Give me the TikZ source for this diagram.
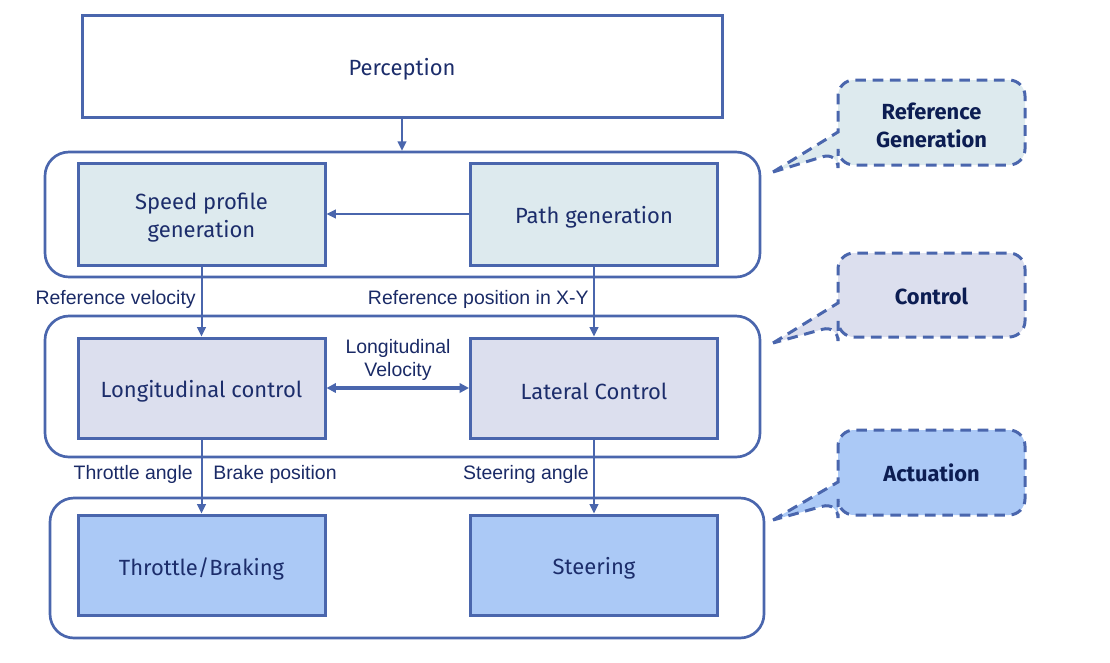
\documentclass[tikz,border=0pt]{standalone}
\usepackage{fontspec}
\setmainfont{Fira Sans}
\newfontfamily\labelfont{Liberation Sans}
\usetikzlibrary{arrows.meta,positioning}
\definecolor{lineblue}{HTML}{4A66AD}
\definecolor{boxtext}{HTML}{1C2D6B}
\definecolor{labtext}{HTML}{1A2A66}
\definecolor{calltext}{HTML}{0C1D52}
\definecolor{fillref}{HTML}{DDEAEE}
\definecolor{fillctl}{HTML}{DCDFEE}
\definecolor{fillact}{HTML}{ABC9F6}
\newcommand{\lowertxt}[1]{\raisebox{-2.6pt}[\height][\depth]{#1}}
\tikzset{
  blk/.style={draw=lineblue, line width=2.25pt, minimum width=185.25pt, minimum height=75pt,
    inner sep=0pt, align=center, text=boxtext, font=\fontsize{16.5}{21}\selectfont},
  grp/.style={draw=lineblue, line width=2pt, rounded corners=18pt, inner sep=0pt},
  conn/.style={draw=lineblue, line width=1.5pt, -{Triangle[length=7pt,width=6.5pt]}},
  dconn/.style={draw=lineblue, line width=2.6pt, {Triangle[length=7pt,width=7pt]}-{Triangle[length=7pt,width=7pt]}},
  lab/.style={text=labtext, font=\labelfont\fontsize{14.6}{17.5}\selectfont, inner sep=0pt, align=center},
  callout/.style={draw=lineblue, line width=2.25pt, dash pattern=on 8pt off 5pt},
  calltxt/.style={text=calltext, font=\bfseries\fontsize{16.4}{21}\selectfont, align=center, inner sep=0pt},
}
\begin{document}
\begin{tikzpicture}[x=0.75pt,y=-0.75pt]
\useasboundingbox (0,0) rectangle (1110,662);
% groups
\node[grp, minimum width=536.25pt, minimum height=93.75pt] (g1) at (402.5,214.5) {};
\node[grp, minimum width=536.25pt, minimum height=105.75pt] (g2) at (402.5,386.5) {};
\node[grp, minimum width=535.5pt, minimum height=105pt] (g3) at (407,568) {};
% boxes
\node[blk, fill=white, minimum width=480pt, minimum height=76.5pt] (perc) at (402,66) {\lowertxt{Perception}};
\node[blk, fill=fillref, minimum height=76.5pt] (speed) at (201.5,214) {\lowertxt{\begin{tabular}{@{}c@{}}Speed profile\\generation\end{tabular}}};
\node[blk, fill=fillref, minimum height=76.5pt] (path) at (594,214) {\lowertxt{Path generation}};
\node[blk, fill=fillctl] (long) at (201.5,388) {\lowertxt{Longitudinal control}};
\node[blk, fill=fillctl] (lat) at (594,388) {\lowertxt{Lateral Control}};
\node[blk, fill=fillact] (thr) at (201.5,565) {\lowertxt{Throttle/Braking}};
\node[blk, fill=fillact] (steer) at (594,565) {\lowertxt{Steering}};
% connectors
\draw[conn] (perc.south) -- (perc.south |- g1.north);
\draw[conn] (path.west) -- (speed.east);
\draw[conn] (speed.south) -- (long.north);
\draw[conn] (path.south) -- (lat.north);
\draw[dconn] (long.east) -- (lat.west);
\draw[conn] (long.south) -- (thr.north);
\draw[conn] (lat.south) -- (steer.north);
% labels
\node[lab, anchor=east] (lrv) at (196,299) {Reference velocity};
\node[lab, anchor=east] (lrp) at (589,299) {Reference position in X-Y};
\node[lab] (llv) at (398,360) {Longitudinal\\Velocity};
\node[lab, anchor=east] (lta) at (193,474) {Throttle angle};
\node[lab, anchor=west] (lbp) at (213,474) {Brake position};
\node[lab, anchor=east] (lsa) at (589,474) {Steering angle};
% callouts
\path[callout, fill=fillref] (773,172) -- (838,132) [rounded corners=12pt] -- (838,80) -- (1025,80) -- (1025,165) -- (838,165) -- (838,152) [sharp corners] -- cycle;
\node[calltxt] (crg) at (931.5,125) {Reference\\Generation};
\path[callout, fill=fillctl] (773,343) -- (838,303) [rounded corners=12pt] -- (838,253) -- (1025,253) -- (1025,337) -- (838,337) -- (838,325) [sharp corners] -- cycle;
\node[calltxt] (cctl) at (931.5,296) {Control};
\path[callout, fill=fillact] (773,520) -- (838,482) [rounded corners=12pt] -- (838,430) -- (1025,430) -- (1025,515) -- (838,515) -- (838,502) [sharp corners] -- cycle;
\node[calltxt] (cact) at (931.5,473) {Actuation};
\end{tikzpicture}
\end{document}
